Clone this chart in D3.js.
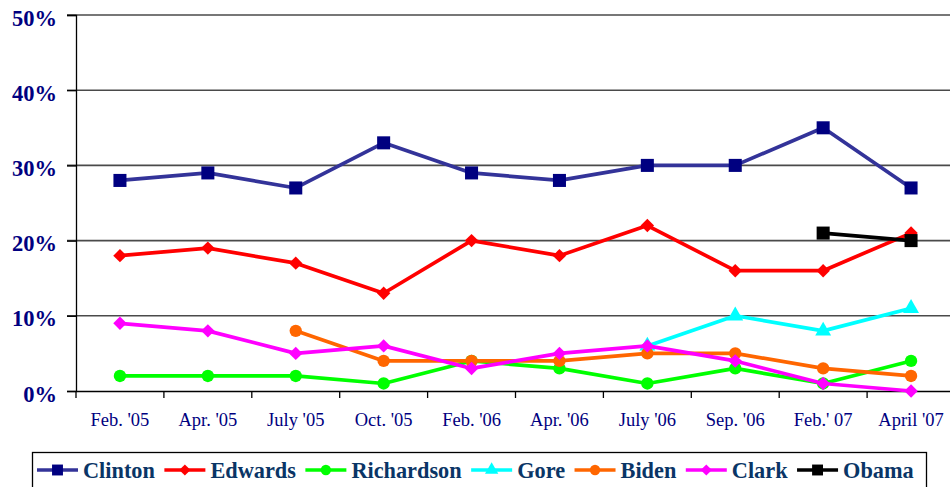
<!DOCTYPE html>
<html>
<head>
<meta charset="utf-8">
<script src="https://cdn.jsdelivr.net/npm/d3@7"></script>
<style>
  body { margin: 0; background: #fff; }
  svg { display: block; font-family: "Liberation Serif", "Times New Roman", serif; }
</style>
</head>
<body>
<svg id="chart" width="950" height="487"></svg>
<script>
// poll dates
var months = ["Feb. '05", "Apr. '05", "July '05", "Oct. '05", "Feb. '06", "Apr. '06", "July '06", "Sep. '06", "Feb.' 07", "April '07"];
var yTicks = [0, 10, 20, 30, 40, 50];

// percentages, null = not polled
var clinton    = [28, 29, 27, 33, 29, 28, 30, 30, 35, 27];
var edwards    = [18, 19, 17, 13, 20, 18, 22, 16, 16, 21];
var richardson = [2, 2, 2, 1, 4, 3, 1, 3, 1, 4];
var gore       = [null, null, null, null, null, null, 6, 10, 8, 11];
var biden      = [null, null, 8, 4, 4, 4, 5, 5, 3, 2];
var clark      = [9, 8, 5, 6, 3, 5, 6, 4, 1, 0];
var obama      = [null, null, null, null, null, null, null, null, 21, 20];

var series = [
    {name: "Clinton", values: clinton, line: "#333399", fill: "#000080", shape: d3.symbolSquare, size: 170},
    {name: "Edwards", values: edwards, line: "#ff0000", fill: "#ff0000", shape: d3.symbolDiamond, size: 52},
    {name: "Richardson", values: richardson, line: "#00ff00", fill: "#00ff00", shape: d3.symbolCircle, size: 120},
    {name: "Gore", values: gore, line: "#00ffff", fill: "#00ffff", shape: d3.symbolTriangle, size: 110},
    {name: "Biden", values: biden, line: "#ff6600", fill: "#ff6600", shape: d3.symbolCircle, size: 120},
    {name: "Clark", values: clark, line: "#ff00ff", fill: "#ff00ff", shape: d3.symbolDiamond, size: 52},
    {name: "Obama", values: obama, line: "#000000", fill: "#000000", shape: d3.symbolSquare, size: 170}
];

var svg = d3.select("#chart");
var plotLeft = 76, plotRight = 955, plotTop = 15, plotBottom = 391;

var x = d3.scaleBand().domain(months).range([plotLeft, plotRight]);
var y = d3.scaleLinear().domain([0, 50]).range([plotBottom, plotTop]);

// diamonds in the original are square-ish, d3's are tall
function stretch(s) {
    return s.shape === d3.symbolDiamond ? " scale(1.73,1)" : "";
}

// gridlines
svg.append("g").selectAll("line")
    .data(yTicks.filter(function(d) { return d > 0; }))
    .enter().append("line")
    .attr("x1", plotLeft - 9).attr("x2", plotRight)
    .attr("y1", function(d) { return y(d); }).attr("y2", function(d) { return y(d); })
    .attr("stroke", "#4a4a4a").attr("stroke-width", 1.6);

// y axis
var yAxis = svg.append("g").attr("transform", "translate(" + plotLeft + ",0)")
    .call(d3.axisLeft(y).tickValues(yTicks).tickSize(9).tickPadding(10)
        .tickFormat(function(d) { return d + "%"; }));
yAxis.select(".domain").attr("stroke", "#000").attr("stroke-width", 1.3);
yAxis.selectAll(".tick line").attr("stroke", "#000").attr("stroke-width", 1.3);
yAxis.selectAll("text")
    .attr("font-family", "Liberation Serif, Times New Roman, serif")
    .attr("font-size", 22.5).attr("font-weight", "bold").attr("fill", "#000080")
    .attr("dy", "0.45em");

// x axis
var xAxis = svg.append("g").attr("transform", "translate(0," + plotBottom + ")")
    .call(d3.axisBottom(x).tickSize(0).tickPadding(22));
xAxis.select(".domain").attr("stroke", "#000").attr("stroke-width", 1.3);
xAxis.selectAll("text")
    .attr("font-family", "Liberation Serif, Times New Roman, serif")
    .attr("font-size", 18.5).attr("fill", "#000080");
// tick marks between categories
svg.append("g").selectAll("line")
    .data(months)
    .enter().append("line")
    .attr("x1", function(d) { return x(d); }).attr("x2", function(d) { return x(d); })
    .attr("y1", plotBottom).attr("y2", plotBottom + 7)
    .attr("stroke", "#000").attr("stroke-width", 1.3);

var cx = function(i) { return x(months[i]) + x.bandwidth() / 2; };
var line = d3.line()
    .defined(function(d) { return d != null; })
    .x(function(d, i) { return cx(i); })
    .y(function(d) { return y(d); });

series.forEach(function(s) {
    var g = svg.append("g");
    g.append("path")
        .datum(s.values)
        .attr("d", line)
        .attr("fill", "none")
        .attr("stroke", s.line)
        .attr("stroke-width", 3.7)
        .attr("stroke-linejoin", "round");
    g.selectAll("path.m")
        .data(s.values.map(function(v, i) { return {v: v, i: i}; }).filter(function(d) { return d.v != null; }))
        .enter().append("path")
        .attr("class", "m")
        .attr("d", d3.symbol().type(s.shape).size(s.size))
        .attr("transform", function(d) {
            return "translate(" + cx(d.i) + "," + y(d.v) + ")" + stretch(s);
        })
        .attr("fill", s.fill);
});

// legend
var legend = svg.append("g");
legend.append("rect")
    .attr("x", 32.5).attr("y", 452.5).attr("width", 894).attr("height", 50)
    .attr("fill", "#fff").attr("stroke", "#000").attr("stroke-width", 1.3);

var lx = 37;
series.forEach(function(s) {
    var g = legend.append("g").attr("transform", "translate(" + lx + ",470)");
    g.append("line").attr("x1", 0).attr("x2", 41).attr("y1", 0).attr("y2", 0)
        .attr("stroke", s.line).attr("stroke-width", 3.7);
    g.append("path")
        .attr("d", d3.symbol().type(s.shape).size(s.size * 0.7))
        .attr("transform", "translate(20.5,0)" + stretch(s))
        .attr("fill", s.fill);
    var t = g.append("text")
        .attr("x", 46).attr("y", 0).attr("dy", "0.35em")
        .attr("font-size", 22.3).attr("font-weight", "bold").attr("fill", "#0a3566")
        .text(s.name);
    lx += 46 + t.node().getComputedTextLength() + 9.5;
});
</script>
</body>
</html>
